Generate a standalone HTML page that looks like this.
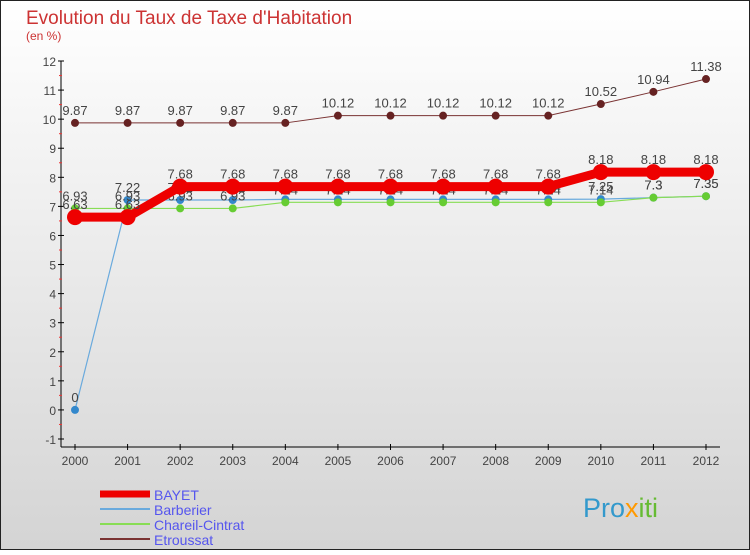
<!DOCTYPE html>
<html><head><meta charset="utf-8"><style>
body{margin:0;width:750px;height:550px;overflow:hidden;font-family:"Liberation Sans",sans-serif}
svg text{font-family:"Liberation Sans",sans-serif;font-weight:300}
</style></head><body>
<svg id="c" width="750" height="550" xmlns="http://www.w3.org/2000/svg">
<defs><linearGradient id="bg" x1="0" y1="0" x2="0" y2="1"><stop offset="0" stop-color="#ffffff"/><stop offset="1" stop-color="#d4d4d4"/></linearGradient></defs>
<rect x="0.5" y="0.5" width="749" height="549" fill="url(#bg)" stroke="#222"/>
<text x="26" y="24" font-size="19" fill="#cc3333">Evolution du Taux de Taxe d'Habitation</text>
<text x="26" y="40" font-size="12" fill="#cc3333">(en %)</text>
<g id="axes"></g><g id="series"></g><g id="legend"></g>
<text x="583" y="517" font-size="27" font-weight="bold" fill="#3399cc">Pro<tspan fill="#ff9900">x</tspan><tspan fill="#66bb33">iti</tspan></text>
</svg>
<script>
const years=[2000,2001,2002,2003,2004,2005,2006,2007,2008,2009,2010,2011,2012];
const yTicks=[-1,0,1,2,3,4,5,6,7,8,9,10,11,12];
const bayet=[6.63,6.63,7.68,7.68,7.68,7.68,7.68,7.68,7.68,7.68,8.18,8.18,8.18];
const barberier=[0,7.22,7.22,7.22,7.24,7.24,7.24,7.24,7.24,7.24,7.25,7.3,7.35];
const chareil=[6.93,6.93,6.93,6.93,7.14,7.14,7.14,7.14,7.14,7.14,7.14,7.3,7.35];
const etroussat=[9.87,9.87,9.87,9.87,9.87,10.12,10.12,10.12,10.12,10.12,10.52,10.94,11.38];
const NS="http://www.w3.org/2000/svg";
const x=i=>75+i*(706-75)/12;
const y=v=>61+(12-v)*(439-61)/13;
function mk(t,a,p){const e=document.createElementNS(NS,t);for(const k in a)e.setAttribute(k,a[k]);p.appendChild(e);return e;}
const ax=document.getElementById('axes');
const yl=mk('line',{x1:61,y1:y(12),x2:61,y2:y(-1)+8,stroke:'#000'},ax);


const xl=mk('line',{x1:61,y1:447,x2:720,y2:447,stroke:'#000'},ax);


yTicks.forEach(v=>{
 mk('line',{x1:58,y1:y(v),x2:64,y2:y(v),stroke:'#000'},ax);
 if(v<12) mk('line',{x1:59,y1:y(v+0.5),x2:62,y2:y(v+0.5),stroke:'#e33'},ax);
 const t=mk('text',{x:56,y:y(v)+5,'font-size':12,'text-anchor':'end',fill:'#444'},ax);
 t.textContent=v;
 
 
});
years.forEach((yr,i)=>{
 mk('line',{x1:x(i),y1:444,x2:x(i),y2:450,stroke:'#000'},ax);
 const t=mk('text',{x:x(i),y:465,'font-size':12,'text-anchor':'middle',fill:'#444'},ax);
 t.textContent=yr;
 
 
});
const sg=document.getElementById('series');
function series(name,data,color,w,r,dot){
 const g=mk('g',{},sg);
 
 
 const pl=mk('polyline',{points:data.map((v,i)=>x(i)+','+y(v)).join(' '),fill:'none',stroke:color,'stroke-width':w},g);
 
 
 data.forEach((v,i)=>{
  const c=mk('circle',{cx:x(i),cy:y(v),r:r,fill:dot},g);
  
  
  const t=mk('text',{x:x(i),y:y(v)-8,'font-size':13,'text-anchor':'middle',fill:'#444'},g);
  t.textContent=String(v);
  
  
 });
}
series('etroussat',etroussat,'#7a3333',1,4,'#662222');
series('barberier',barberier,'#6aaadd',1.2,4,'#3388cc');
series('chareil-cintrat',chareil,'#88dd55',1.2,4,'#66cc33');
series('bayet',bayet,'#ee0000',9,8,'#ee0000');
const lg=document.getElementById('legend');
[['BAYET','#ee0000',7],['Barberier','#6aaadd',2],['Chareil-Cintrat','#88dd55',2],['Etroussat','#7a3333',2]].forEach((d,i)=>{
 const yy=494+i*15;
 const l=mk('line',{x1:100,y1:yy,x2:150,y2:yy,stroke:d[1],'stroke-width':d[2]},lg);
 
 
 const t=mk('text',{x:154,y:yy+6,'font-size':14,fill:'#5555ee'},lg);
 t.textContent=d[0];
 
 
});
</script>
</body></html>
